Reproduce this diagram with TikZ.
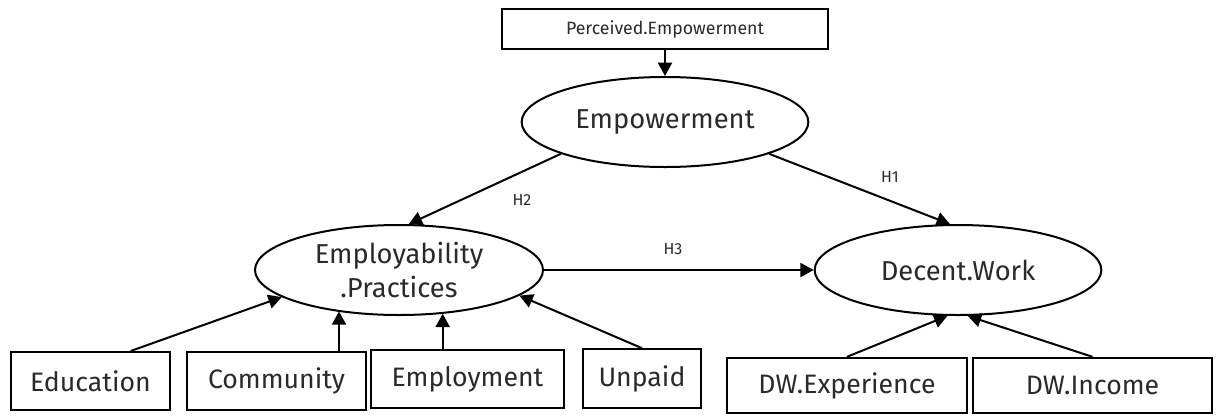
\documentclass[tikz,border=0pt]{standalone}
\usepackage{fontspec}
\setmainfont{Fira Sans}
\usetikzlibrary{arrows.meta,calc,shapes.geometric}
\definecolor{txt}{HTML}{2A2A2A}
\begin{document}
\begin{tikzpicture}[x=0.75pt,y=-0.75pt,
  lat/.style={draw=black,line width=1.5pt,ellipse,inner sep=0pt,text=txt,font=\fontsize{20.5}{26}\selectfont,align=center},
  obs/.style={draw=black,line width=1.5pt,rectangle,inner sep=0pt,text=txt,font=\fontsize{20}{22}\selectfont},
  arr/.style={line width=1.5pt,-{Triangle[length=10pt,width=10.5pt]}},
  hlab/.style={text=txt,font=\fontsize{12}{13}\selectfont,inner sep=0pt}]
\useasboundingbox (0,0) rectangle (1217,415);
\fill[white] (0,0) rectangle (1217,415);
% latent variables
\node[lat,minimum width=215pt,minimum height=67.5pt] (emp) at (665,122) {Empowerment};
\node[lat,minimum width=216pt,minimum height=67.5pt] (ep) at (399,270) {Employability\\.Practices};
\node[lat,minimum width=215pt,minimum height=67.5pt] (dw) at (958,270) {Decent.Work};
% indicators
\node[obs,minimum width=244.5pt,minimum height=30pt,font=\fontsize{13.3}{14}\selectfont] (pe) at (665,29) {Perceived.Empowerment};
\node[obs,minimum width=119pt,minimum height=43.5pt] (edu) at (90.5,381) {Education};
\node[obs,minimum width=134pt,minimum height=43.5pt] (com) at (276.5,381) {Community};
\node[obs,minimum width=145pt,minimum height=43.5pt] (empl) at (467.5,379) {Employment};
\node[obs,minimum width=88.5pt,minimum height=44pt] (unp) at (642,378.5) {Unpaid};
\node[obs,minimum width=180pt,minimum height=41.5pt] (dwe) at (847,385.5) {DW.Experience};
\node[obs,minimum width=179pt,minimum height=41.5pt] (dwi) at (1092.5,385.5) {DW.Income};
% structural paths
\draw[arr] (pe.south) -- (emp.north);
\draw[arr] (emp.197.8) -- (ep.78.7);
\draw[arr] (emp.-17.1) -- (dw.100.1);
\draw[arr] (ep.east) -- (dw.west);
\node[hlab] (h2) at (522,200) {H2};
\node[hlab] (h1) at (890,177) {H1};
\node[hlab] (h3) at (673,249) {H3};
% measurement paths
\coordinate (c1) at ($(edu.north west)!0.75!(edu.north east)$);
\draw[arr] (c1) -- (ep.193.8);
\coordinate (c2) at ($(com.north west)!0.846!(com.north east)$);
\draw[arr] (c2) -- (c2 |- ep.213.8);
\coordinate (c3) at ($(empl.north west)!0.373!(empl.north east)$);
\draw[arr] (c3) -- (c3 |- ep.-44.2);
\draw[arr] (unp.north) -- (ep.-12.1);
\draw[arr] (dwe.north) -- (dw.257.5);
\draw[arr] (dwi.north) -- (dw.282.5);
\end{tikzpicture}
\end{document}
